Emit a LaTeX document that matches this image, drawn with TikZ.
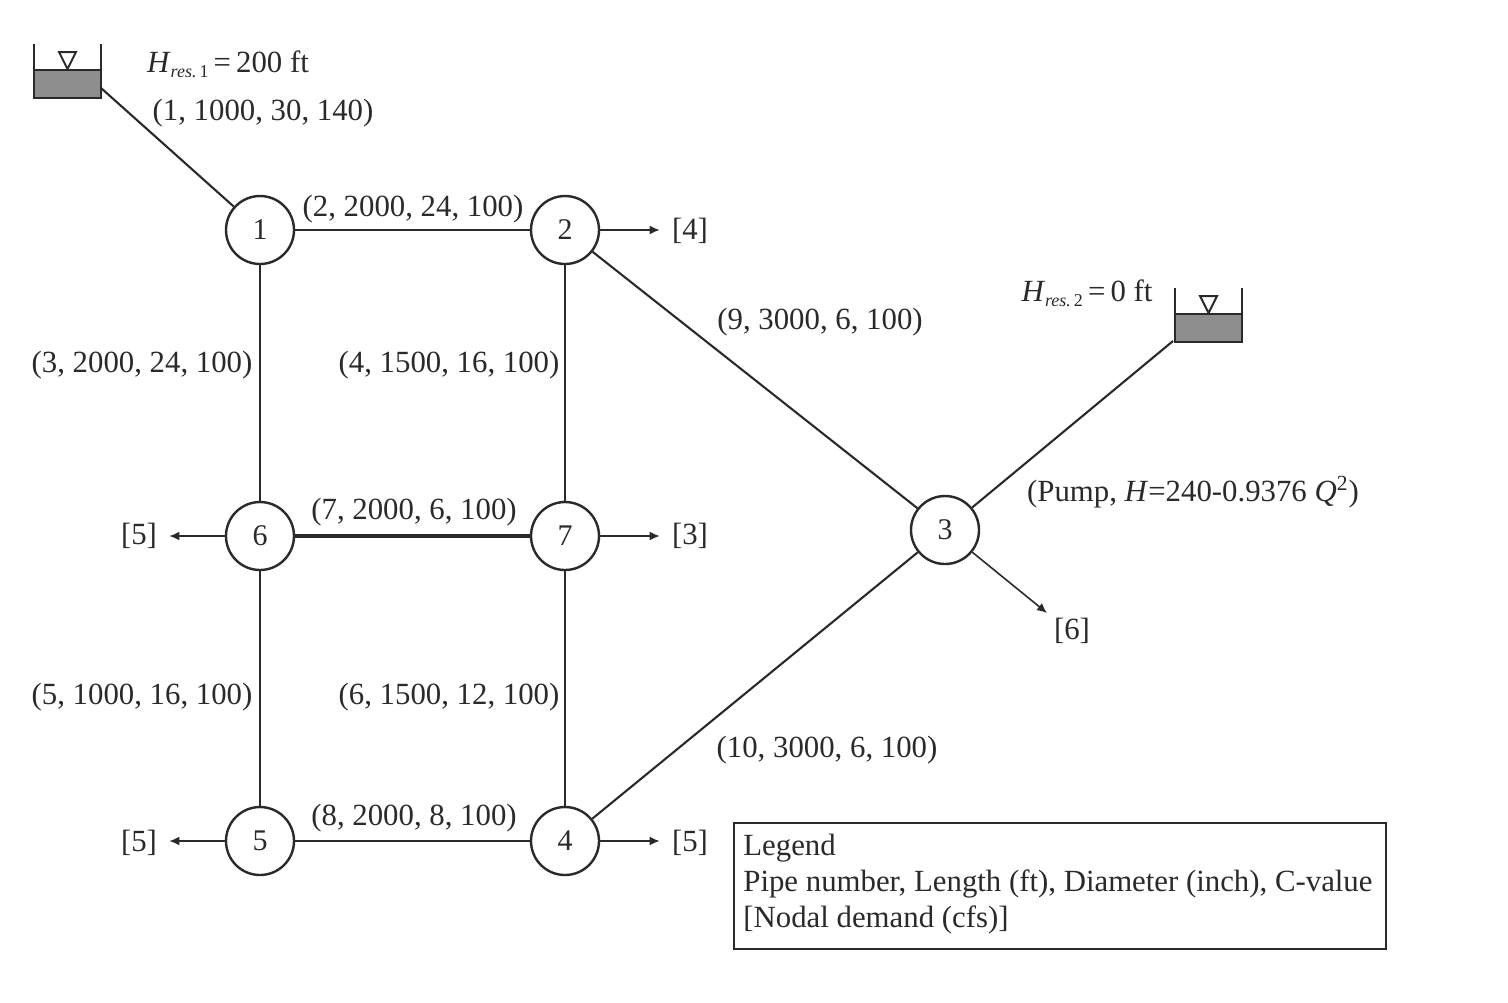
\documentclass[tikz,border=0pt]{standalone}
\usepackage{fontspec}
\setmainfont{Liberation Serif}
\usetikzlibrary{arrows.meta}
\definecolor{ink}{HTML}{2A2A2A}
\definecolor{water}{HTML}{8E8E8E}
\tikzset{
  x=0.5pt,y=-0.5pt,
  junction/.style={circle,draw=ink,line width=1.2pt,fill=white,minimum size=34pt,inner sep=0pt,font=\fontsize{15}{18}\selectfont,text=ink},
  pipe/.style={draw=ink,line width=1.05pt},
  demand/.style={draw=ink,line width=0.8pt,-{Latex[length=5pt,width=4.5pt]}},
  lab/.style={inner sep=0pt,yshift=-3.1pt,font=\fontsize{15.4}{18}\selectfont,text=ink},
  tankwall/.style={draw=ink,line width=1.1pt},
  tankwater/.style={draw=ink,line width=1.3pt,fill=water},
  levelmark/.style={draw=ink,line width=1pt,fill=white},
}
\begin{document}
\begin{tikzpicture}
\useasboundingbox (0,0) rectangle (1508,1002);
\fill[white] (0,0) rectangle (1508,1002);
% reservoirs
\draw[tankwater] (34,70) rectangle (101,98);
\draw[tankwall] (34,44) -- (34,70) (101,44) -- (101,70);
\draw[levelmark] (59,52) -- (76,52) -- (67.5,69) -- cycle;
\draw[tankwater] (1175,314) rectangle (1242,342);
\draw[tankwall] (1175,288) -- (1175,314) (1242,288) -- (1242,314);
\draw[levelmark] (1200,296) -- (1217,296) -- (1208.5,313) -- cycle;
\coordinate (r1) at (101,88);
\coordinate (r2) at (1173,341);
% junctions
\node[junction] (n1) at (260,230) {1};
\node[junction] (n2) at (565,230) {2};
\node[junction] (n3) at (945,530) {3};
\node[junction] (n4) at (565,841) {4};
\node[junction] (n5) at (260,841) {5};
\node[junction] (n6) at (260,536) {6};
\node[junction] (n7) at (565,536) {7};
% pipes
\draw[pipe] (r1) -- (n1);
\draw[pipe] (n1) -- (n2);
\draw[pipe] (n1) -- (n6);
\draw[pipe] (n2) -- (n7);
\draw[pipe] (n6) -- (n5);
\draw[pipe] (n7) -- (n4);
\draw[pipe,line width=1.6pt] (n6) -- (n7);
\draw[pipe] (n5) -- (n4);
\draw[pipe] (n2) -- (n3);
\draw[pipe] (n4) -- (n3);
\draw[pipe] (r2) -- (n3);
% demand labels and arrows
\node[lab] (d2) at (690,225) {[4]};
\node[lab] (d7) at (690,530) {[3]};
\node[lab] (d4) at (690,837) {[5]};
\node[lab] (d6) at (139,530) {[5]};
\node[lab] (d5) at (139,837) {[5]};
\node[lab] (d3) at (1072,625) {[6]};
\coordinate (a2) at (d2.west |- n2);
\coordinate (a7) at (d7.west |- n7);
\coordinate (a4) at (d4.west |- n4);
\coordinate (a6) at (d6.east |- n6);
\coordinate (a5) at (d5.east |- n5);
\draw[demand,shorten >=6pt] (n2) -- (a2);
\draw[demand,shorten >=6pt] (n7) -- (a7);
\draw[demand,shorten >=6pt] (n4) -- (a4);
\draw[demand,shorten >=6pt] (n6) -- (a6);
\draw[demand,shorten >=6pt] (n5) -- (a5);
\coordinate (d3tip) at (1047,613);
\draw[demand] (n3) -- (d3tip);
% labels
\node[lab] (hr1) at (228,58) {\textit{H}\raisebox{-0.35ex}{\fontsize{9}{10}\selectfont\textit{res.}\,1}\,=\,200 ft};
\node[lab] (hr2) at (1087,287) {\textit{H}\raisebox{-0.35ex}{\fontsize{9}{10}\selectfont\textit{res.}\,2}\,=\,0 ft};
\node[lab] (p1) at (263,107) {(1, 1000, 30, 140)};
\node[lab] (p2) at (413,203) {(2, 2000, 24, 100)};
\node[lab] (p3) at (142,359) {(3, 2000, 24, 100)};
\node[lab] (p4) at (449,359) {(4, 1500, 16, 100)};
\node[lab] (p5) at (142,691) {(5, 1000, 16, 100)};
\node[lab] (p6) at (449,691) {(6, 1500, 12, 100)};
\node[lab] (p7) at (414,506) {(7, 2000, 6, 100)};
\node[lab] (p8) at (414,812) {(8, 2000, 8, 100)};
\node[lab] (p9) at (820,316) {(9, 3000, 6, 100)};
\node[lab] (p10) at (827,744) {(10, 3000, 6, 100)};
\node[lab] (pump) at (1193,486) {(Pump, \textit{H}=240-0.9376 \textit{Q}\textsuperscript{2})};
% legend
\node[draw=ink,line width=1pt,minimum width=326pt,minimum height=63pt,inner sep=0pt] (legendbox) at (1060,886) {};
\node[lab,anchor=west] (l1) at (743,842) {Legend};
\node[lab,anchor=west] (l2) at (743,878) {Pipe number, Length (ft), Diameter (inch), C-value};
\node[lab,anchor=west] (l3) at (743,914) {[Nodal demand (cfs)]};
\end{tikzpicture}
\end{document}
